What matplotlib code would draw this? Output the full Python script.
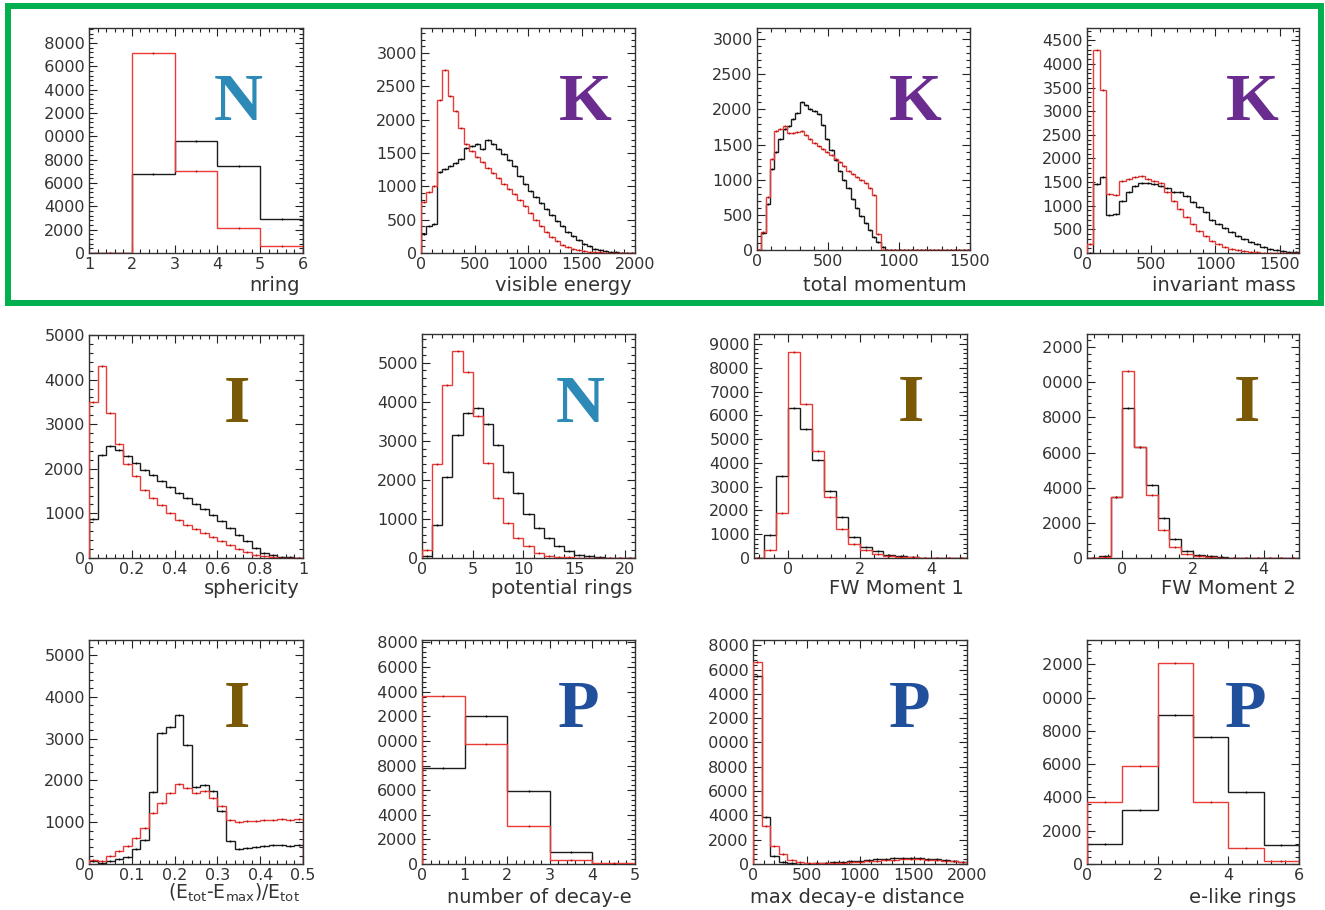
import numpy as np
import matplotlib
matplotlib.use("Agg")
import matplotlib.pyplot as plt
from matplotlib.ticker import AutoMinorLocator
from matplotlib.patches import Rectangle
from matplotlib.transforms import Bbox

plt.rcParams['font.family'] = ['DejaVu Sans']
plt.rcParams['mathtext.default'] = 'regular'

# ---------------------------------------------------------------- data
# number of rings
nring_red = [0, 17150, 7000, 2150, 600]
nring_black = [0, 6800, 9650, 7500, 2900]

# visible energy (50 MeV bins)
evis_red = [760, 920, 1000, 2300, 2750, 2360, 2130, 1870, 1640, 1530,
            1440, 1360, 1280, 1200, 1120, 1040, 960, 880, 800, 700,
            600, 500, 410, 320, 240, 175, 125, 85, 58, 40,
            28, 20, 14, 10, 7, 5, 3, 2, 1, 1]
evis_black = [290, 400, 440, 1210, 1260, 1300, 1350, 1410, 1580, 1600,
              1640, 1560, 1700, 1640, 1560, 1480, 1400, 1310, 1150, 1040,
              930, 840, 750, 660, 570, 480, 400, 320, 250, 190,
              140, 100, 65, 40, 25, 15, 9, 5, 3, 2]

# total momentum (30 MeV/c bins)
ptot_red = [0, 260, 750, 1290, 1690, 1720, 1770, 1660, 1660, 1680,
            1690, 1640, 1580, 1530, 1480, 1440, 1400, 1350, 1300, 1250,
            1190, 1130, 1080, 1040, 1000, 950, 880, 780, 230, 0,
            0, 0, 0, 0, 0, 0, 0, 0, 0, 0,
            0, 0, 0, 0, 0, 0, 0, 0, 0, 0]
ptot_black = [0, 240, 650, 1150, 1400, 1580, 1720, 1760, 1870, 1950,
              2110, 2060, 2010, 1980, 1940, 1780, 1580, 1420, 1280, 1130,
              1000, 880, 720, 600, 480, 380, 290, 180, 110, 40,
              0, 0, 0, 0, 0, 0, 0, 0, 0, 0,
              0, 0, 0, 0, 0, 0, 0, 0, 0, 0]

# invariant mass (50 MeV bins)
minv_red = [200, 4300, 3440, 1250, 1230, 1520, 1560, 1600, 1620, 1560,
            1520, 1490, 1280, 1100, 930, 760, 610, 470, 360, 260,
            190, 130, 90, 60, 40, 25, 15, 10, 6, 4,
            3, 2, 1]
minv_black = [0, 1450, 1600, 800, 820, 1100, 1280, 1420, 1480, 1480,
              1450, 1420, 1380, 1280, 1300, 1200, 1080, 970, 860, 700,
              620, 530, 440, 370, 300, 230, 180, 130, 95, 60,
              40, 25, 12]

# sphericity
spher_red = [3500, 4300, 3250, 2560, 2110, 1830, 1530, 1350, 1190, 1010,
             860, 750, 650, 560, 470, 375, 285, 200, 135, 75,
             37, 20, 10, 5, 3]
spher_black = [880, 2300, 2520, 2430, 2280, 2130, 1980, 1850, 1720, 1590,
               1460, 1340, 1220, 1100, 970, 820, 670, 520, 370, 225,
               110, 60, 30, 12, 5]

# potential rings
prings_red = [210, 2410, 4420, 5300, 4770, 3620, 2440, 1530, 890, 510,
              300, 130, 60, 35, 20, 10, 5, 3, 2, 1, 1]
prings_black = [60, 850, 2070, 3150, 3700, 3830, 3430, 2890, 2210, 1660,
                1130, 770, 510, 300, 170, 85, 45, 20, 10, 5, 3]

# Fox-Wolfram moments
fw1_red = [0, 330, 1890, 8650, 6470, 4510, 2560, 1230, 590, 320,
           170, 90, 45, 25, 12, 6, 3, 2]
fw1_black = [0, 950, 3430, 6300, 5430, 4130, 2800, 1720, 880, 450,
             280, 140, 80, 40, 20, 10, 5, 3]
fw2_red = [10, 60, 3500, 10640, 6340, 3600, 1610, 625, 230, 95,
           40, 15, 8, 4, 2, 1, 1, 0]
fw2_black = [20, 100, 3500, 8520, 6340, 4130, 2270, 1080, 420, 190,
             95, 40, 15, 8, 4, 2, 1, 1]

# (Etot - Emax) / Etot
efrac_red = [100, 60, 180, 300, 420, 620, 860, 1220, 1460, 1700,
             1920, 1815, 1710, 1750, 1580, 1380, 1060, 1000, 1020, 1030,
             1045, 1050, 1075, 1050, 1065]
efrac_black = [60, 25, 80, 120, 160, 360, 565, 1720, 3145, 3290,
               3570, 2850, 1840, 1895, 1735, 1260, 560, 365, 380, 400,
               420, 445, 455, 440, 460]

# number of decay electrons
ndcy_red = [13650, 9750, 3110, 350, 80]
ndcy_black = [7800, 12050, 5950, 1000, 30]

# max decay-e distance (80 cm bins)
dcyd_red = [16600, 3100, 1450, 820, 350, 160, 90, 70, 70, 90,
            120, 160, 200, 240, 280, 320, 360, 390, 400, 390,
            360, 320, 270, 220, 170]
dcyd_black = [15500, 3900, 630, 160, 80, 40, 40, 60, 90, 130,
              180, 230, 280, 330, 380, 420, 460, 490, 500, 480,
              440, 380, 310, 240, 180]

# e-like rings
elike_red = [3700, 5900, 12100, 3740, 960, 200]
elike_black = [1220, 3260, 8940, 7660, 4320, 1160]

# ---------------------------------------------------------------- panels
W, H = 1325, 910
RED = '#ec3a35'
BLACK = '#1c1c1c'
COL = {'N': '#2d8ab6', 'K': '#6a2c8f', 'I': '#7a5906', 'P': '#204f9b'}

panels = [
    dict(red=nring_red, black=nring_black, rng=(1, 6), xlim=(1, 6),
         xticks=[1, 2, 3, 4, 5, 6], xticklabels=['1', '2', '3', '4', '5', '6'],
         ylim=19300, ystep=2000, ymax=18000, xlabel='nring',
         box=(89, 28, 303, 253), tag='N', tagpos=(238, 120), cut=True),
    dict(red=evis_red, black=evis_black, rng=(0, 2000), xlim=(0, 2000),
         xticks=[0, 500, 1000, 1500, 2000], ylim=3375, ystep=500, ymax=3000,
         xlabel='visible energy', box=(421, 28, 635, 253), tag='K',
         tagpos=(585, 120)),
    dict(red=ptot_red, black=ptot_black, rng=(0, 1500), xlim=(0, 1500),
         xticks=[0, 500, 1000, 1500], ylim=3160, ystep=500, ymax=3000,
         xlabel='total momentum', box=(757, 28, 970, 250), tag='K',
         tagpos=(915, 120)),
    dict(red=minv_red, black=minv_black, rng=(0, 1650), xlim=(0, 1650),
         xticks=[0, 500, 1000, 1500], ylim=4760, ystep=500, ymax=4500,
         xlabel='invariant mass', box=(1087, 28, 1299, 253), tag='K',
         tagpos=(1252, 120)),
    dict(red=spher_red, black=spher_black, rng=(0, 1), xlim=(0, 1),
         xticks=[0, 0.2, 0.4, 0.6, 0.8, 1],
         xticklabels=['0', '0.2', '0.4', '0.6', '0.8', '1'],
         ylim=5000, ystep=1000, ymax=5000, xlabel='sphericity',
         box=(89, 335, 303, 558), tag='I', tagpos=(237, 422)),
    dict(red=prings_red, black=prings_black, rng=(0, 21), xlim=(0, 21),
         xticks=[0, 5, 10, 15, 20], ylim=5730, ystep=1000, ymax=5000,
         xlabel='potential rings', box=(422, 334, 635, 558), tag='N',
         tagpos=(580, 422)),
    dict(red=fw1_red, black=fw1_black, rng=(-1, 5), xlim=(-0.95, 5),
         xticks=[0, 2, 4], ylim=9420, ystep=1000, ymax=9000,
         xlabel='FW Moment 1', box=(754, 334, 967, 558), tag='I',
         tagpos=(911, 421)),
    dict(red=fw2_red, black=fw2_black, rng=(-1, 5), xlim=(-1, 5),
         xticks=[0, 2, 4], ylim=12750, ystep=2000, ymax=12000,
         xlabel='FW Moment 2', box=(1087, 334, 1299, 558), tag='I',
         tagpos=(1247, 421), cut=True),
    dict(red=efrac_red, black=efrac_black, rng=(0, 0.5), xlim=(0, 0.5),
         xticks=[0, 0.1, 0.2, 0.3, 0.4, 0.5],
         xticklabels=['0', '0.1', '0.2', '0.3', '0.4', '0.5'],
         ylim=5360, ystep=1000, ymax=5000,
         xlabel='(E$_{tot}$-E$_{max}$)/E$_{tot}$', box=(89, 640, 303, 864),
         tag='I', tagpos=(237, 727), xlabel_base=899, xlabel_size=13.5),
    dict(red=ndcy_red, black=ndcy_black, rng=(0, 5), xlim=(0, 5),
         xticks=[0, 1, 2, 3, 4, 5], ylim=18200, ystep=2000, ymax=18000,
         xlabel='number of decay-e', box=(422, 640, 635, 864), tag='P',
         tagpos=(579, 727), cut=True),
    dict(red=dcyd_red, black=dcyd_black, rng=(0, 2000), xlim=(0, 2000),
         xticks=[0, 500, 1000, 1500, 2000], ylim=18430, ystep=2000,
         ymax=18000, xlabel='max decay-e distance', box=(753, 640, 967, 864),
         tag='P', tagpos=(910, 727), cut=True),
    dict(red=elike_red, black=elike_black, rng=(0, 6), xlim=(0, 6),
         xticks=[0, 2, 4, 6], ylim=13460, ystep=2000, ymax=12000,
         xlabel='e-like rings', box=(1087, 640, 1299, 864), tag='P',
         tagpos=(1246, 727), cut=True),
]

xlabel_rows = {28: 291, 334: 594, 335: 594, 640: 903}

fig = plt.figure(figsize=(W / 100, H / 100), dpi=100)
fig.patch.set_facecolor('white')

axes = []
for p in panels:
    l, t, r, b = p['box']
    ax = fig.add_axes([l / W, 1 - b / H, (r - l) / W, (b - t) / H])
    axes.append(ax)
    black = np.asarray(p['black'], float)
    red = np.asarray(p['red'], float)
    edges = np.linspace(p['rng'][0], p['rng'][1], len(black) + 1)
    centers = 0.5 * (edges[:-1] + edges[1:])
    ax.stairs(black, edges, color=BLACK, lw=1.0, baseline=0, zorder=2)
    ax.stairs(red, edges, color=RED, lw=1.0, baseline=0, zorder=3)
    ax.plot(centers, black, ls='none', marker='o', ms=1.4, mew=0,
            color='#000000', zorder=4)
    ax.plot(centers, red, ls='none', marker='o', ms=1.4, mew=0,
            color='#a01818', zorder=4)

    ax.set_xlim(*p['xlim'])
    ax.set_ylim(0, p['ylim'])
    ax.set_xticks(p['xticks'])
    if 'xticklabels' in p:
        ax.set_xticklabels(p['xticklabels'])
    yt = np.arange(0, p['ymax'] + 1, p['ystep'])
    ax.set_yticks(yt)
    ax.set_yticklabels([str(int(v)) for v in yt])
    ax.xaxis.set_minor_locator(AutoMinorLocator(5))
    ax.yaxis.set_minor_locator(AutoMinorLocator(5))
    ax.tick_params(which='both', direction='in', top=True, right=True,
                   colors='#222222', labelcolor='#333333', width=0.8)
    ax.tick_params(which='major', length=6, pad=3, labelsize=11.5)
    ax.tick_params(which='minor', length=3)
    for s in ax.spines.values():
        s.set_linewidth(1.0)
        s.set_color('#333333')

    base = p.get('xlabel_base', xlabel_rows[t])
    fig.text((r - 3) / W, 1 - base / H, p['xlabel'], ha='right',
             va='baseline', fontsize=p.get('xlabel_size', 14),
             color='#333333')

    tx, ty = p['tagpos']
    fig.text(tx / W, 1 - ty / H, p['tag'], ha='center', va='baseline',
             fontsize=49, fontweight='bold', family='Liberation Serif',
             color=COL[p['tag']])

# green frame around the top row
fig.add_artist(Rectangle((8 / W, 1 - 303 / H), (1321 - 8) / W, (303 - 6) / H,
                         transform=fig.transFigure, fill=False,
                         edgecolor='#00b04f', lw=4.3, zorder=10))

# the leading digit of five-digit y labels is cut off at the panel edge
fig.canvas.draw()
for ax, p in zip(axes, panels):
    if not p.get('cut'):
        continue
    labels = ax.get_yticklabels()
    five = [lb for lb in labels if len(lb.get_text()) == 5]
    if not five:
        continue
    ext = five[0].get_window_extent()
    xcut = ext.x0 + ext.width / 5.0 + 0.5
    box = Bbox([[xcut, 0], [W, H]])
    for lb in labels:
        lb.set_clip_on(True)
        lb.set_clip_box(box)

fig.savefig('out.png', dpi=100, facecolor='white')
